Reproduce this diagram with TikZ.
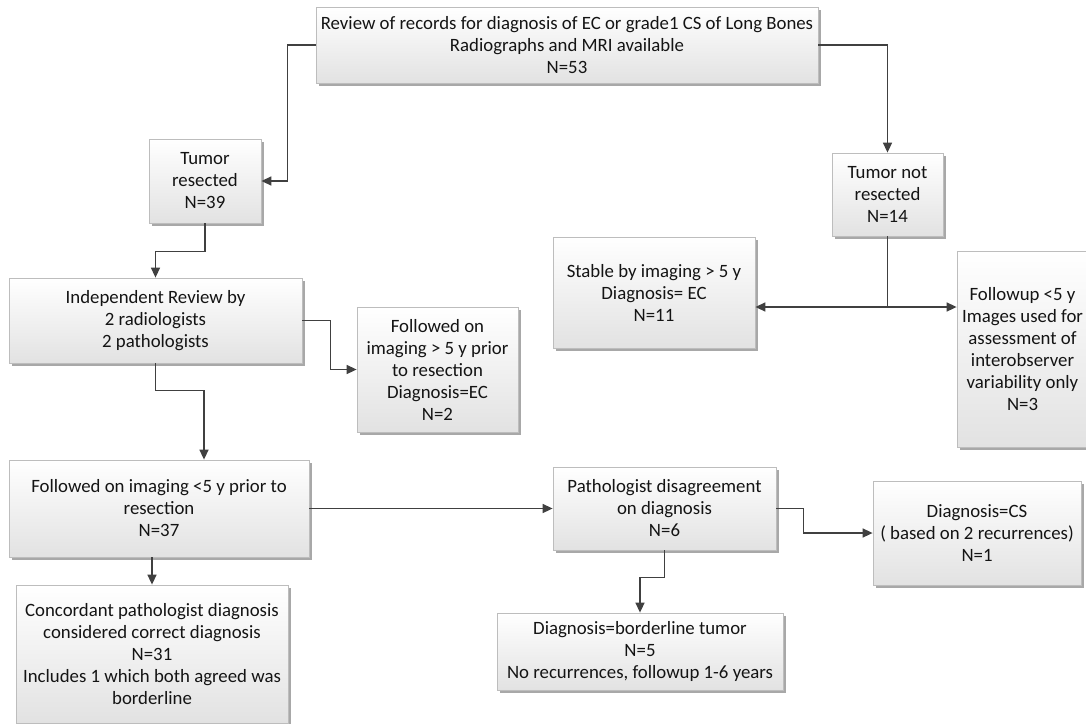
\documentclass[tikz,border=0pt]{standalone}
\usepackage{fontspec}
\setmainfont{Carlito}
\usetikzlibrary{shadows,arrows.meta}
\definecolor{linec}{HTML}{404040}
\definecolor{boxborder}{HTML}{BDBDBD}
\definecolor{boxbottom}{HTML}{E2E2E2}
\definecolor{shadowc}{HTML}{A8A8A8}
\begin{document}
\begin{tikzpicture}[x=1pt,y=-1pt,
  box/.style={draw=boxborder, line width=0.8pt, top color=white, bottom color=boxbottom,
    align=center, inner sep=0pt, font=\fontsize{18.8}{22}\selectfont, text=black!92,
    drop shadow={shadow xshift=3pt, shadow yshift=-3pt, fill=shadowc, opacity=1}},
  arr/.style={draw=linec, line width=1.5pt, -{Triangle[length=10pt,width=9pt]}},
  arrboth/.style={draw=linec, line width=1.5pt, {Triangle[length=10pt,width=9pt]}-{Triangle[length=10pt,width=9pt]}},
  conn/.style={draw=linec, line width=1.5pt},
]
\useasboundingbox (0,0) rectangle (1086,723);
\fill[white] (0,0) rectangle (1086,723);

\node[box, minimum width=502pt, minimum height=76pt] (top) at (567,45)
  {Review of records for diagnosis of EC or grade1 CS of Long Bones\\Radiographs and MRI available\\N=53};
\node[box, minimum width=112pt, minimum height=84pt] (tr) at (205,181)
  {Tumor\\resected\\N=39};
\node[box, minimum width=111pt, minimum height=83pt] (tnr) at (887.5,194.5)
  {Tumor not\\resected\\N=14};
\node[box, minimum width=293pt, minimum height=85pt] (ind) at (155.5,320.5)
  {Independent Review by\\2 radiologists\\2 pathologists};
\node[box, minimum width=161pt, minimum height=125pt] (f5p) at (437.5,369.5)
  {Followed on\\imaging {>} 5 y prior\\to resection\\Diagnosis=EC\\N=2};
\node[box, minimum width=202pt, minimum height=111pt] (stable) at (654,292.5)
  {Stable by imaging {>} 5 y\\Diagnosis= EC\\N=11};
\node[box, minimum width=131pt, minimum height=196pt] (fu) at (1022.5,349)
  {Followup {<}5 y\\\makebox[0pt][c]{Images used for}\\assessment of\\interobserver\\variability only\\N=3};
\node[box, minimum width=300pt, minimum height=97pt] (f5m) at (159,508.5)
  {Followed on imaging {<}5 y prior to\\resection\\N=37};
\node[box, minimum width=223pt, minimum height=83pt] (path) at (664.5,508.5)
  {Pathologist disagreement\\on diagnosis\\N=6};
\node[box, minimum width=208pt, minimum height=104pt] (cs) at (977,533)
  {Diagnosis=CS\\( based on 2 recurrences)\\N=1};
\node[box, minimum width=272pt, minimum height=138pt] (conc) at (152,654)
  {Concordant pathologist diagnosis\\considered correct diagnosis\\N=31\\Includes 1 which both agreed was\\borderline};
\node[box, minimum width=286pt, minimum height=77pt] (bord) at (640,651.5)
  {Diagnosis=borderline tumor\\N=5\\No recurrences, followup 1-6 years};

\coordinate (j) at (887.5,307);

\draw[arr] (top.west) -- ++(-28,0) |- (tr.east);
\draw[arr] (top.east) -| (tnr.north);
\draw[arr] (tr.south) -- ++(0,28) -| (ind.north);
\draw[arr] (ind.east) -- ++(28,0) |- (f5p.west);
\draw[arr] (ind.south) -- ++(0,27) -| ([xshift=45pt]f5m.north);
\draw[arr] (f5m.east) -- (path.west);
\draw[arr] (f5m.south -| conc.north) -- (conc.north);
\draw[arr] (path.south) -- ++(0,27) -| (bord.north);
\draw[arr] (path.east) -- ++(27,0) |- (cs.west);
\draw[conn] (tnr.south) -- (j);
\draw[arrboth] (j -| stable.east) -- (j -| fu.west);
\end{tikzpicture}
\end{document}
